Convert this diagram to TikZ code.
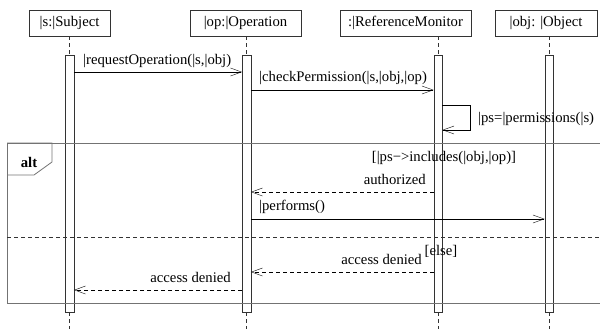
\documentclass[tikz,border=0pt]{standalone}
\usepackage{fontspec}
\setmainfont{Liberation Serif}
\usetikzlibrary{arrows.meta}

\begin{document}
\begin{tikzpicture}[x=1pt, y=-1pt,
    every node/.style={font=\fontsize{14.7}{17}\selectfont},
    head/.style={draw=black!80, minimum height=26pt, inner sep=2pt},
    bar/.style={draw=black!80, minimum width=8.5pt, minimum height=257pt, inner sep=0pt},
    life/.style={draw=black!80, dash pattern=on 4pt off 3pt},
    msg/.style={draw=black, -{Straight Barb[length=11pt,width=8pt]}},
    ret/.style={msg, dash pattern=on 4pt off 3pt},
    frame/.style={draw=black!55, line width=1pt},
    lbl/.style={inner sep=1pt}]
    \useasboundingbox (0, 0) rectangle (600, 329);

    % Lifeline heads and activation bars
    \foreach \n/\hx/\w/\bx/\t in {s/69.5/81/69.5/{|s:|Subject}, op/245.5/111/246.5/{|op:|Operation},
        rm/405.5/131/438/{:|ReferenceMonitor}, obj/546/102/549/{|obj: |Object}} {
        \node[head, minimum width=\w] (h\n) at (\hx, 23) {\t};
        \node[bar] (b\n) at (\bx, 183.5) {};
        \draw[life] (b\n.north |- h\n.south) -- (b\n.north);
        \draw[life] (b\n.south) -- (b\n.south |- 0, 329);
    }

    % Message levels
    \coordinate (m1) at (0, 72);
    \coordinate (m2) at (0, 90);
    \coordinate (m3a) at (0, 105);
    \coordinate (m3b) at (0, 130);
    \coordinate (m4) at (0, 192);
    \coordinate (m5) at (0, 219);
    \coordinate (m6) at (0, 272);
    \coordinate (m7) at (0, 290);
    \coordinate (loop) at (470, 0);

    % Messages
    \draw[msg] (bs.east |- m1) -- (bop.west |- m1);
    \node[lbl, anchor=west] (l1) at (82, 61) {|requestOperation(|s,|obj)};
    \draw[msg] (bop.east |- m2) -- (brm.west |- m2);
    \node[lbl, anchor=west] (l2) at (258, 78) {|checkPermission(|s,|obj,|op)};
    \draw[msg] (brm.east |- m3a) -- (loop |- m3a) -- (loop |- m3b) -- (brm.east |- m3b);
    \node[lbl, anchor=west] (l3) at (477, 119) {|ps=|permissions(|s)};

    % Alternative fragment
    \draw[frame] (600, 143) -- (7, 143) -- (7, 303) -- (600, 303);
    \draw[frame, line width=0.8pt] (7, 143) -| (52, 162) -- (34, 175) -- (7, 175);
    \node[font=\fontsize{14.7}{17}\selectfont\bfseries] (alt) at (29, 162) {alt};
    \draw[life, line width=0.6pt] (7, 237) -- (600, 237);

    \node[lbl] (g1) at (444, 158) {[|ps−>includes(|obj,|op)]};
    \draw[ret] (brm.west |- m4) -- (bop.east |- m4);
    \node[lbl, anchor=east] (l4) at (427, 179) {authorized};
    \draw[msg] (bop.east |- m5) -- (bobj.west |- m5);
    \node[lbl, anchor=west] (l5) at (258, 207) {|performs()};

    \node[lbl] (g2) at (441, 251) {[else]};
    \draw[ret] (brm.west |- m6) -- (bop.east |- m6);
    \node[lbl, anchor=east] (l6) at (423, 259) {access denied};
    \draw[ret] (bop.west |- m7) -- (bs.east |- m7);
    \node[lbl, anchor=east] (l7) at (232, 277) {access denied};
\end{tikzpicture}
\end{document}
